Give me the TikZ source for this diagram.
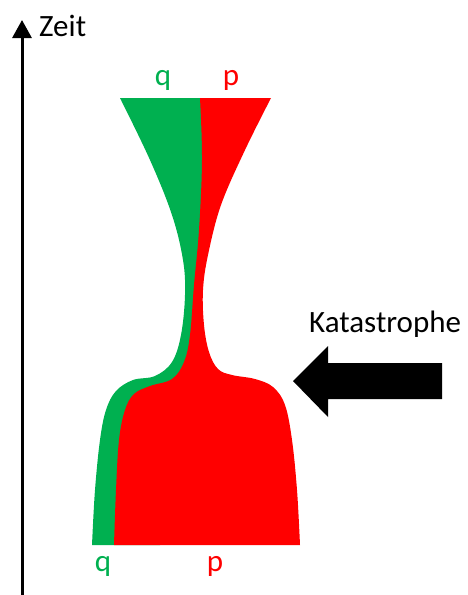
\documentclass[tikz,border=0pt]{standalone}
\usepackage{fontspec}
\setmainfont{Carlito}
\usetikzlibrary{arrows.meta}
\definecolor{qgreen}{HTML}{00B050}
\definecolor{pred}{HTML}{FF0000}

\begin{document}
\begin{tikzpicture}[x=1pt,y=-1pt,lbl/.style={font=\fontsize{31}{37}\selectfont,inner sep=0pt,anchor=base}]
  \useasboundingbox (0,0) rectangle (468,595);
  % zeitachse
  \coordinate (tbot) at (22,595); \coordinate (ttop) at (22,20);
  \draw[line width=3pt,-{Triangle[length=18pt,width=19pt]}] (tbot)--(ttop);
  \node[lbl,anchor=base west] (zeit) at (39,36) {Zeit};
  % q (gruen), rechter rand liegt unter p
  \fill[qgreen] plot[smooth,tension=0.6] coordinates {(120,98) (150,160) (172,215) (183,260) (185,295) (181,335) (172,362) (155,376) (133,380) (116,391) (106,410) (100,440) (95,490) (92,545)}
    -- (160,545) -- (200,360) -- (199,290) -- (203,200) -- (205,98) -- cycle;
  % p (rot)
  \fill[pred] plot[smooth,tension=0.6] coordinates {(200,98) (202,160) (199,230) (194,285) (190,335) (184,362) (172,379) (150,386) (134,394) (125,410) (119,440) (116,490) (114,545)}
    -- plot[smooth,tension=0.6] coordinates {(300,545) (297,490) (292,440) (285,405) (273,387) (255,379) (232,375) (218,369) (209,352) (204,325) (203,290) (208,255) (221,205) (245,150) (271,98)} -- cycle;
  % beschriftung
  \node[lbl,text=qgreen] (qtop) at (163,85) {q};
  \node[lbl,text=pred] (ptop) at (231,85) {p};
  \node[lbl,text=qgreen] (qbot) at (103,571) {q};
  \node[lbl,text=pred] (pbot) at (215,571) {p};
  % katastrophe
  \node[lbl,anchor=base west] (kat) at (309,332) {Katastrophe};
  \fill (293,381) -- (328,346) -- (328,363) -- (442,363) -- (442,399) -- (328,399) -- (328,417) -- cycle;
\end{tikzpicture}
\end{document}
